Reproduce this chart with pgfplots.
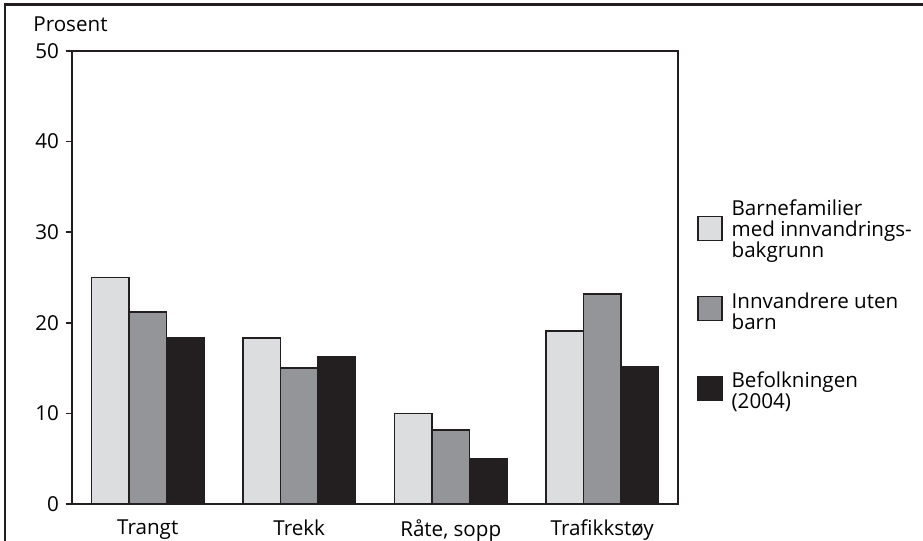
\documentclass[border=0pt]{standalone}
\usepackage{pgfplots}
\pgfplotsset{compat=1.18}
\usepackage{fontspec}
\setmainfont{Open Sans}
\definecolor{cLight}{HTML}{DCDDDE}
\definecolor{cMid}{HTML}{939598}
\definecolor{cDark}{HTML}{231F20}
\newcommand{\ffont}{\fontsize{10.3}{10.5}\selectfont}
\begin{document}
\begin{tikzpicture}
\useasboundingbox (0,0) rectangle (461.5pt,270.5pt);
\draw[cDark, line width=1.2pt] (2.5pt,-2pt) -- (2.5pt,268.25pt) -- (463pt,268.25pt);
\node[anchor=base west, inner sep=0pt, font=\ffont] at (16.5pt,254.5pt) {Prosent};
\begin{axis}[
  at={(36pt,18.5pt)}, anchor=south west,
  scale only axis, width=303pt, height=226.5pt,
  ybar=0pt, bar width=18.75pt,
  legend image code/.code={\draw[#1, line width=0.8pt] (0pt,-6pt) rectangle (12pt,6pt);},
  xmin=-0.5, xmax=3.5, ymin=0, ymax=50,
  xtick=data, xticklabels={Trangt, Trekk, {Råte, sopp}, Trafikkstøy},
  ytick={0,10,20,30,40,50},
  x tick style={draw=none},
  y tick style={cDark, line width=0.75pt},
  tick align=outside, major tick length=3pt, tick pos=left,
  axis line style={cDark, line width=0.75pt},
  tick label style={font=\ffont, text=black},
  /pgf/number format/assume math mode=true,
  xticklabel style={yshift=-1.5pt},
  legend style={draw=none, fill=none, inner sep=0pt, outer sep=0pt,
    at={(1.0314,0.4316)}, anchor=west, column sep=4.5pt,
    nodes={inner sep=0pt, font=\ffont, text height=24pt, text depth=16pt}},
  legend cell align=left,
]
\addplot[fill=cLight, draw=cDark, line width=0.8pt] coordinates {(0,25) (1,18.3) (2,10.0) (3,19.1)};
\addplot[fill=cMid, draw=cDark, line width=0.8pt] coordinates {(0,21.2) (1,15.0) (2,8.2) (3,23.2)};
\addplot[fill=cDark, draw=cDark, line width=0.8pt] coordinates {(0,18.3) (1,16.2) (2,5.0) (3,15.1)};
\addlegendentry{\parbox[c]{95pt}{\ffont Barnefamilier\\med innvandrings-\\bakgrunn}}
\addlegendentry{\parbox[c]{95pt}{\ffont Innvandrere uten\\barn}}
\addlegendentry{\parbox[c]{95pt}{\ffont Befolkningen\\(2004)}}
\end{axis}
\end{tikzpicture}
\end{document}
